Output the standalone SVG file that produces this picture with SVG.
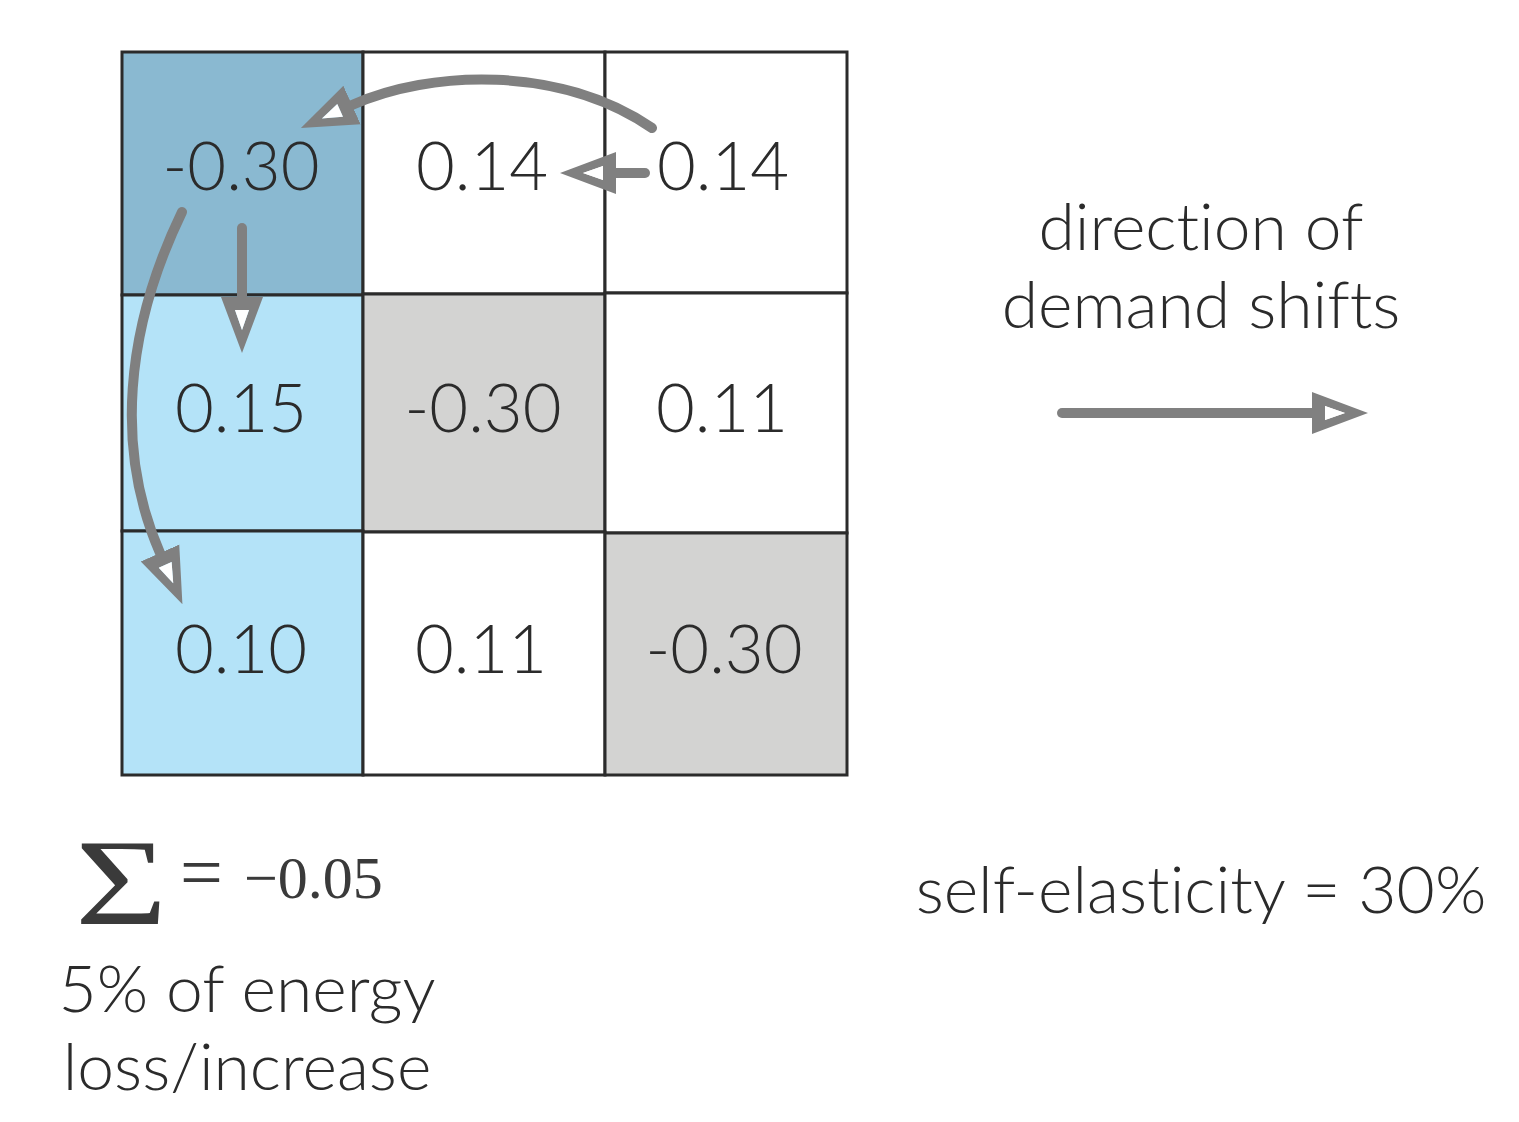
<svg xmlns="http://www.w3.org/2000/svg" width="1519" height="1122" viewBox="0 0 1519 1122">
<style>
.cell{stroke:#2b2b2b;stroke-width:3}
.num{font-family:"Lato","Liberation Sans",Arial,sans-serif;font-weight:300;font-size:67px;fill:#2b2b2b;text-anchor:middle}
.lbl{font-family:"Lato","Liberation Sans",Arial,sans-serif;font-weight:300;font-size:66px;fill:#2b2b2b;font-variant-ligatures:none}
.math{font-family:"Liberation Serif",serif;font-weight:400;fill:#3a3a3a}
.conn{fill:none;stroke:#808080;stroke-width:10;stroke-linecap:round}
</style>
<defs>
<marker id="ah" markerUnits="userSpaceOnUse" viewBox="0 -25 60 50" markerWidth="60" markerHeight="50" refX="0" refY="0" orient="auto">
<path d="M0,-21 L56,0 L0,21 Z M13,-7 L13,7 L33,0 Z" fill="#808080" fill-rule="evenodd"/>
<path d="M13,-7 L33,0 L13,7 Z" fill="#ffffff"/>
</marker>
</defs>
<rect width="1519" height="1122" fill="#ffffff"/>
<g id="cell-r1c1"><rect class="cell" x="122" y="52" width="241" height="243" fill="#8ab9d1"/><text class="num" x="241" y="190">-0.30</text></g>
<g id="cell-r1c2"><rect class="cell" x="363" y="52" width="242" height="242" fill="#ffffff"/><text class="num" x="482" y="190">0.14</text></g>
<g id="cell-r1c3"><rect class="cell" x="605" y="52" width="242" height="241" fill="#ffffff"/><text class="num" x="723" y="190">0.14</text></g>
<g id="cell-r2c1"><rect class="cell" x="122" y="295" width="241" height="236" fill="#b4e3f8"/><text class="num" x="241" y="432">0.15</text></g>
<g id="cell-r2c2"><rect class="cell" x="363" y="294" width="242" height="238" fill="#d3d3d2"/><text class="num" x="483" y="432">-0.30</text></g>
<g id="cell-r2c3"><rect class="cell" x="605" y="293" width="242" height="240" fill="#ffffff"/><text class="num" x="722" y="432">0.11</text></g>
<g id="cell-r3c1"><rect class="cell" x="122" y="531" width="241" height="244" fill="#b4e3f8"/><text class="num" x="241" y="673">0.10</text></g>
<g id="cell-r3c2"><rect class="cell" x="363" y="532" width="242" height="243" fill="#ffffff"/><text class="num" x="481" y="673">0.11</text></g>
<g id="cell-r3c3"><rect class="cell" x="605" y="533" width="242" height="242" fill="#d3d3d2"/><text class="num" x="724" y="673">-0.30</text></g>
<g id="connectors">
<path class="conn" d="M652,128 C560,65 430,70 352,105" marker-end="url(#ah)"/>
<path class="conn" d="M645,173 L616,173" marker-end="url(#ah)"/>
<path class="conn" d="M242,228 L242,297" marker-end="url(#ah)"/>
<path class="conn" d="M182,212 C125,330 115,450 160,553" marker-end="url(#ah)"/>
<path class="conn" d="M1062,413 L1312,413" marker-end="url(#ah)"/>
</g>
<g id="legend-direction">
<text class="lbl" x="1201" y="250" text-anchor="middle">direction of</text>
<text class="lbl" x="1201" y="328" text-anchor="middle">demand shifts</text>
</g>
<g id="legend-elasticity">
<text class="lbl" x="1201" y="913" text-anchor="middle">self-elasticity = 30%</text>
</g>
<g id="sum">
<text class="math" transform="translate(75,924) scale(1.3,1)" font-size="122">Σ</text>
<text class="math" x="180" y="898" font-size="76">=</text>
<text class="math" x="244" y="898" font-size="60">−0.05</text>
</g>
<g id="legend-loss">
<text class="lbl" x="247" y="1012" text-anchor="middle">5% of energy</text>
<text class="lbl" x="247" y="1090" text-anchor="middle">loss/increase</text>
</g>
</svg>
